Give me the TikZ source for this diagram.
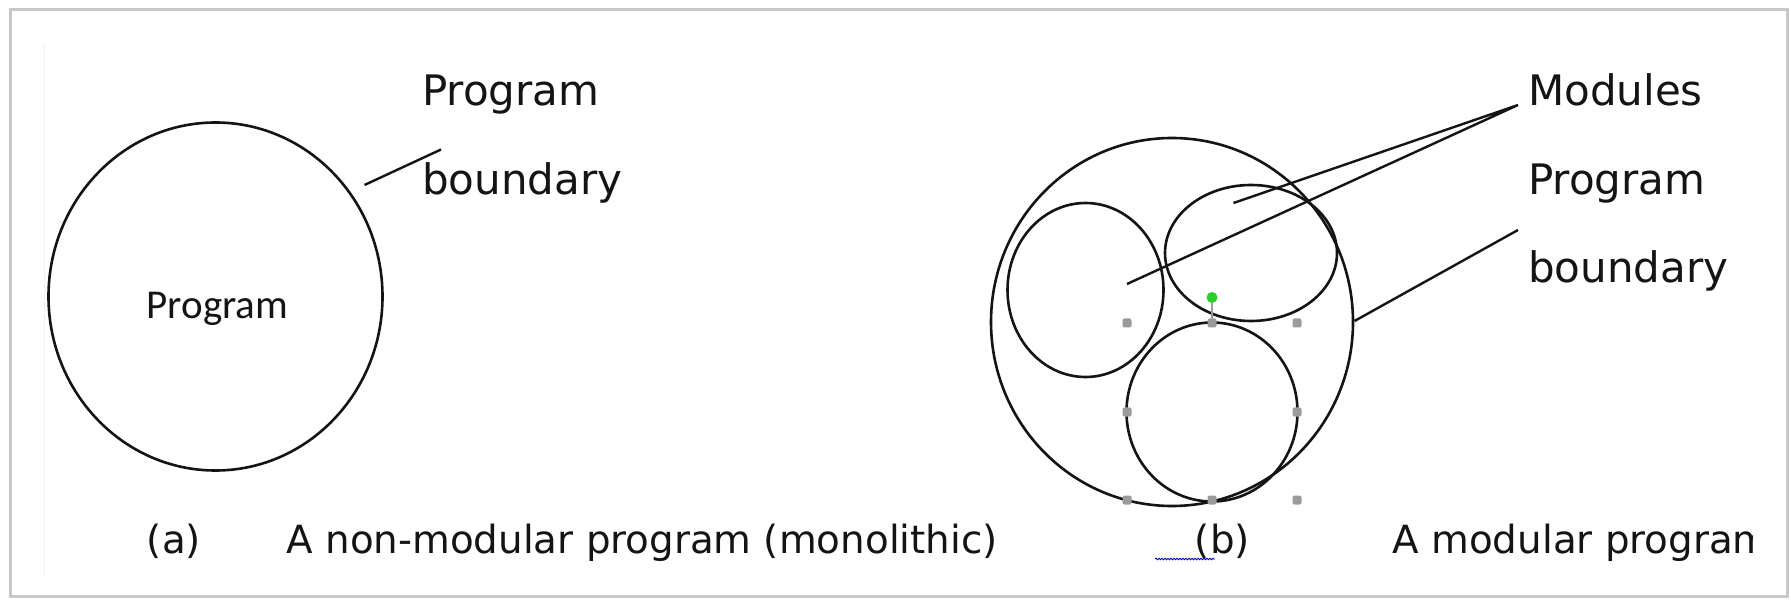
\documentclass[tikz,border=0pt]{standalone}
\usepackage{fontspec}
\setmainfont{DejaVu Sans}
\newfontfamily\carlito{Carlito}
\usetikzlibrary{shapes.geometric,decorations.pathmorphing}
\definecolor{hdlgray}{RGB}{155,155,155}
\definecolor{hdlgreen}{RGB}{45,205,45}
\definecolor{framegray}{RGB}{200,200,200}
\definecolor{inkblack}{RGB}{20,20,20}
\begin{document}
\begin{tikzpicture}[x=1pt,y=-1pt,
  shapeline/.style={draw=inkblack, line width=2.6pt, ellipse, inner sep=0pt},
  leader/.style={draw=inkblack, line width=2.4pt},
  lbl/.style={font=\fontsize{42}{50}\selectfont, anchor=base west, inner sep=0pt, text=inkblack},
  captext/.style={font=\fontsize{38.8}{46}\selectfont, anchor=base west, inner sep=0pt, text=inkblack},
  hdl/.style={rectangle, fill=hdlgray, rounded corners=2pt, minimum size=9pt, inner sep=0pt}
]
\useasboundingbox (0,0) rectangle (1791,601);
\fill[white] (0,0) rectangle (1791,601);
% frame
\draw[framegray, line width=3pt] (10,10) rectangle (1787,596);
\draw[black!6, line width=1pt] (44,43) -- (44,575);

% ---------- (a) non-modular program ----------
\node[shapeline, minimum width=334pt, minimum height=348pt] (progA) at (215.5,296.5) {};
\node[font=\carlito\fontsize{41}{48}\selectfont, anchor=base, inner sep=0pt, text=inkblack] (progAtxt) at (217.5,319) {Program};
\node[lbl] (pbA1) at (422,106) {Program};
\node[lbl] (pbA2) at (422,195) {boundary};
\coordinate (lA1) at (364.5,185);
\coordinate (lA2) at (441,149.5);
\draw[leader] (lA1) -- (lA2);

% ---------- (b) modular program ----------
\node[shapeline, minimum width=362pt, minimum height=368pt] (progB) at (1172,322) {};
\node[shapeline, minimum width=156pt, minimum height=174pt] (modL) at (1085.5,290) {};
\node[shapeline, minimum width=172pt, minimum height=136pt] (modR) at (1251,253) {};
\node[shapeline, minimum width=171pt, minimum height=179pt] (modB) at (1212,412) {};

% selection handles of the bottom module
\coordinate (rot) at (1212,297.5);
\draw[hdlgray, line width=1.2pt] (rot) -- (1212,322);
\node[circle, fill=hdlgreen, minimum size=11pt, inner sep=0pt] (rotdot) at (rot) {};
\node[hdl] (h1) at (1127,323) {};
\node[hdl] (h2) at (1212,323) {};
\node[hdl] (h3) at (1297,323) {};
\node[hdl] (h4) at (1127,412) {};
\node[hdl] (h5) at (1297,412) {};
\node[hdl] (h6) at (1127,500) {};
\node[hdl] (h7) at (1212,500) {};
\node[hdl] (h8) at (1297,500) {};

% labels
\node[lbl] (modlbl) at (1528,106) {Modules};
\node[lbl] (pbB1) at (1528,195) {Program};
\node[lbl] (pbB2) at (1528,283) {boundary};

\coordinate (mJ) at (1518,105);
\coordinate (mR) at (1233.5,203);
\coordinate (mL) at (1127,284);
\coordinate (bJ) at (1518,230);
\coordinate (bB) at (1354.5,321);
\draw[leader] (mR) -- (mJ) -- (mL);
\draw[leader] (bJ) -- (bB);

% ---------- captions ----------
\node[captext] (capa) at (146.7,553) {(a)};
\node[captext] (capatxt) at (286.4,553) {A non-modular program (monolithic)};
\node[captext] (capb) at (1194.7,553) {(b)};
\coordinate (sq1) at (1155,559);
\coordinate (sq2) at (1215,559);
\draw[blue!75!black, line width=0.9pt, decorate, decoration={snake, amplitude=0.8pt, segment length=3pt}] (sq1) -- (sq2);
\begin{scope}
\clip (1380,500) rectangle (1752,600);
\node[captext] (capbtxt) at (1392.4,553) {A modular program};
\end{scope}
\end{tikzpicture}
\end{document}
